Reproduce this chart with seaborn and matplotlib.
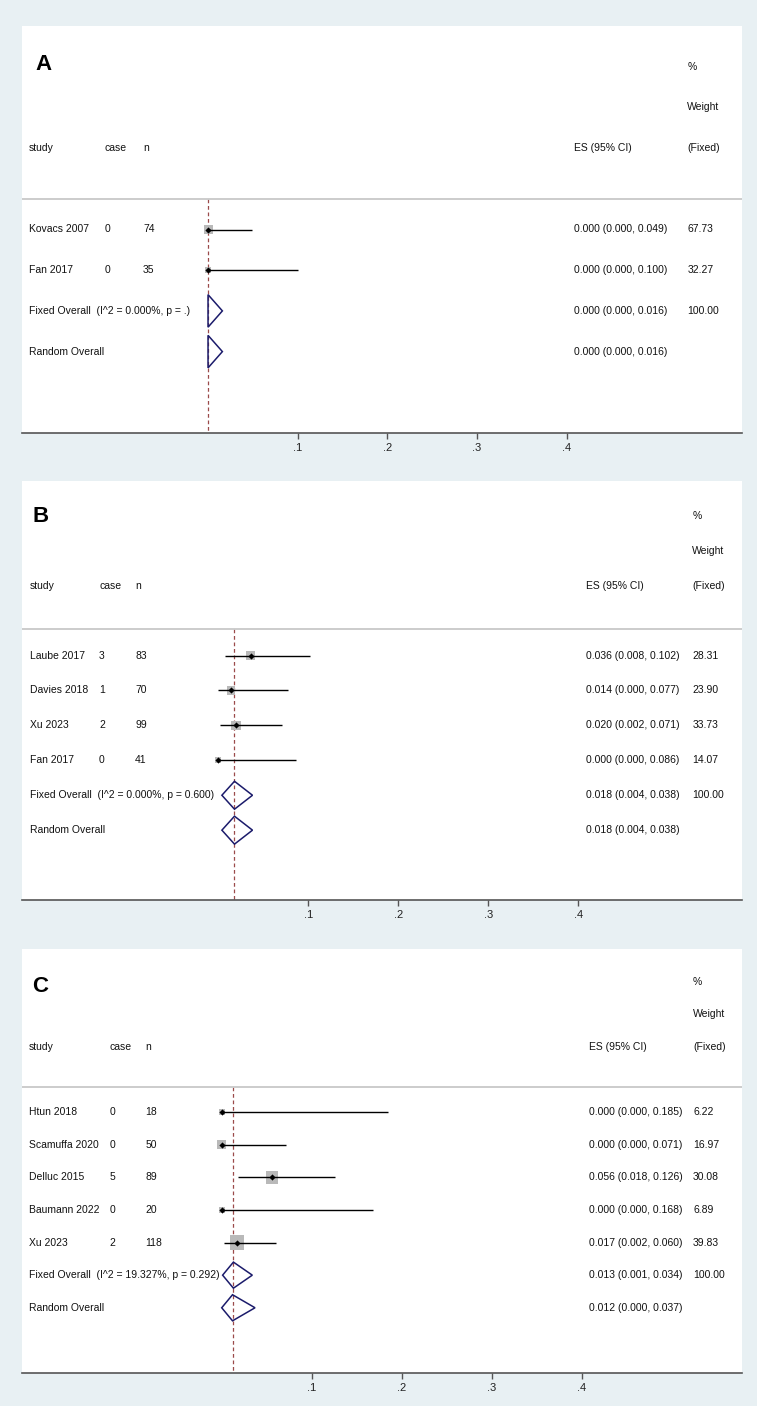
import numpy as np
import pandas as pd
import seaborn as sns
import matplotlib
matplotlib.use('Agg')
import matplotlib.pyplot as plt
from matplotlib.patches import Polygon
from matplotlib.transforms import blended_transform_factory

# ---- data ----
A_study = ["Kovacs 2007", "Fan 2017"]
A_case = [0, 0]
A_n = [74, 35]
A_es = [0.000, 0.000]
A_lo = [0.000, 0.000]
A_hi = [0.049, 0.100]
A_weight = [67.73, 32.27]
A_pool_es = [0.000, 0.000]      # fixed, random
A_pool_lo = [0.000, 0.000]
A_pool_hi = [0.016, 0.016]
A_pool_weight = "100.00"
A_het = "(I^2 = 0.000%, p = .)"

B_study = ["Laube 2017", "Davies 2018", "Xu 2023", "Fan 2017"]
B_case = [3, 1, 2, 0]
B_n = [83, 70, 99, 41]
B_es = [0.036, 0.014, 0.020, 0.000]
B_lo = [0.008, 0.000, 0.002, 0.000]
B_hi = [0.102, 0.077, 0.071, 0.086]
B_weight = [28.31, 23.90, 33.73, 14.07]
B_pool_es = [0.018, 0.018]
B_pool_lo = [0.004, 0.004]
B_pool_hi = [0.038, 0.038]
B_pool_weight = "100.00"
B_het = "(I^2 = 0.000%, p = 0.600)"

C_study = ["Htun 2018", "Scamuffa 2020", "Delluc 2015", "Baumann 2022", "Xu 2023"]
C_case = [0, 0, 5, 0, 2]
C_n = [18, 50, 89, 20, 118]
C_es = [0.000, 0.000, 0.056, 0.000, 0.017]
C_lo = [0.000, 0.000, 0.018, 0.000, 0.002]
C_hi = [0.185, 0.071, 0.126, 0.168, 0.060]
C_weight = [6.22, 16.97, 30.08, 6.89, 39.83]
C_pool_es = [0.013, 0.012]
C_pool_lo = [0.001, 0.000]
C_pool_hi = [0.034, 0.037]
C_pool_weight = "100.00"
C_het = "(I^2 = 19.327%, p = 0.292)"

xticks = [0.1, 0.2, 0.3, 0.4]
xtick_labels = [".1", ".2", ".3", ".4"]

# ---- style ----
sns.set_theme(style="white")
plt.rcParams['font.family'] = ['Liberation Sans', 'DejaVu Sans']
plt.rcParams['text.color'] = "#111111"
BG = "#E8F0F3"
NAVY = "#1B1B6B"
RED = "#9B4A4A"
FS = 7.5

W, H = 757, 1406
fig = plt.figure(figsize=(W / 100, H / 100), dpi=100, facecolor=BG)

# layout: (top px, bottom px, xlim, column fractions, square scale px/sqrt(w), letter pos px)
panels = [
    dict(letter="A", top=26, bottom=433, xlim=(-0.2074, 0.5953),
         cols=(0.0097, 0.115, 0.168, 0.767, 0.924), k=1.1, lx=35, ly=65,
         study=A_study, case=A_case, n=A_n, es=A_es, lo=A_lo, hi=A_hi,
         w=A_weight, pes=A_pool_es, plo=A_pool_lo, phi=A_pool_hi,
         pw=A_pool_weight, het=A_het),
    dict(letter="B", top=481, bottom=900, xlim=(-0.2181, 0.5819),
         cols=(0.011, 0.107, 0.157, 0.783, 0.931), k=1.65, lx=33, ly=516,
         study=B_study, case=B_case, n=B_n, es=B_es, lo=B_lo, hi=B_hi,
         w=B_weight, pes=B_pool_es, plo=B_pool_lo, phi=B_pool_hi,
         pw=B_pool_weight, het=B_het),
    dict(letter="C", top=949, bottom=1373, xlim=(-0.2219, 0.5781),
         cols=(0.0097, 0.122, 0.171, 0.7875, 0.932), k=2.3, lx=32, ly=987,
         study=C_study, case=C_case, n=C_n, es=C_es, lo=C_lo, hi=C_hi,
         w=C_weight, pes=C_pool_es, plo=C_pool_lo, phi=C_pool_hi,
         pw=C_pool_weight, het=C_het),
]

left_px, right_px = 22, 742

for p in panels:
    ax = fig.add_axes([left_px / W, 1 - p["bottom"] / H,
                       (right_px - left_px) / W, (p["bottom"] - p["top"]) / H])
    ax.set_facecolor("white")
    nstud = len(p["study"])
    nrows = nstud + 2
    ax.set_xlim(*p["xlim"])
    ax.set_ylim(nrows + 1, -5)
    tr = blended_transform_factory(ax.transAxes, ax.transData)

    df = pd.DataFrame({"study": p["study"], "es": p["es"], "lo": p["lo"],
                       "hi": p["hi"], "w": p["w"], "row": np.arange(nstud)})

    # weight boxes, CI lines, point estimates
    side_pt = p["k"] * np.sqrt(df["w"]) * 0.72
    ax.scatter(df["es"], df["row"], s=side_pt ** 2, marker="s",
               color="#B9B9B9", linewidths=0, zorder=2)
    ax.hlines(df["row"], df["lo"], df["hi"], color="black", lw=1.0, zorder=3)
    sns.scatterplot(data=df, x="es", y="row", marker="D", color="black",
                    s=10, linewidth=0, zorder=4, ax=ax, legend=False)

    # pooled diamonds
    for j in range(2):
        r = nstud + j
        es, lo, hi = p["pes"][j], p["plo"][j], p["phi"][j]
        ax.add_patch(Polygon([(lo, r), (es, r - 0.4), (hi, r), (es, r + 0.4)],
                             closed=True, fill=False, edgecolor=NAVY, lw=1.1, zorder=4))

    # reference line at fixed overall estimate
    ax.vlines(p["pes"][0], -0.76, nrows + 1, color=RED, lw=0.9,
              linestyles=(0, (3, 2.2)), zorder=1)
    ax.axhline(-0.76, color="#C8C8C8", lw=1.3, zorder=1)

    # text columns
    c_st, c_ca, c_n, c_es, c_w = p["cols"]
    kw = dict(transform=tr, fontsize=FS, va="center")
    ax.text(c_st, -2, "study", **kw)
    ax.text(c_ca, -2, "case", **kw)
    ax.text(c_n, -2, "n", **kw)
    ax.text(c_es, -2, "ES (95% CI)", **kw)
    ax.text(c_w, -4, "%", **kw)
    ax.text(c_w, -3, "Weight", **kw)
    ax.text(c_w, -2, "(Fixed)", **kw)

    for i in range(nstud):
        ax.text(c_st, i, p["study"][i], **kw)
        ax.text(c_ca, i, str(p["case"][i]), **kw)
        ax.text(c_n, i, str(p["n"][i]), **kw)
        ax.text(c_es, i, f"{p['es'][i]:.3f} ({p['lo'][i]:.3f}, {p['hi'][i]:.3f})", **kw)
        ax.text(c_w, i, f"{p['w'][i]:.2f}", **kw)

    ax.text(c_st, nstud, "Fixed Overall  " + p["het"], **kw)
    ax.text(c_st, nstud + 1, "Random Overall", **kw)
    for j in range(2):
        ax.text(c_es, nstud + j,
                f"{p['pes'][j]:.3f} ({p['plo'][j]:.3f}, {p['phi'][j]:.3f})", **kw)
    ax.text(c_w, nstud, p["pw"], **kw)

    # panel letter
    fig.text(p["lx"] / W, 1 - p["ly"] / H, p["letter"], fontsize=16,
             fontweight="bold", color="black", va="center", ha="left")

    # axis styling
    for s in ["top", "left", "right"]:
        ax.spines[s].set_visible(False)
    ax.spines["bottom"].set_color("#555555")
    ax.spines["bottom"].set_linewidth(1.2)
    ax.set_yticks([])
    ax.set_xticks(xticks)
    ax.set_xticklabels(xtick_labels)
    ax.tick_params(axis="x", direction="out", length=4, width=1, color="#555555",
                   labelsize=8, labelcolor="#222222", pad=3, bottom=True)
    ax.set_xlabel("")
    ax.set_ylabel("")

fig.savefig("out.png", dpi=100, facecolor=BG)
